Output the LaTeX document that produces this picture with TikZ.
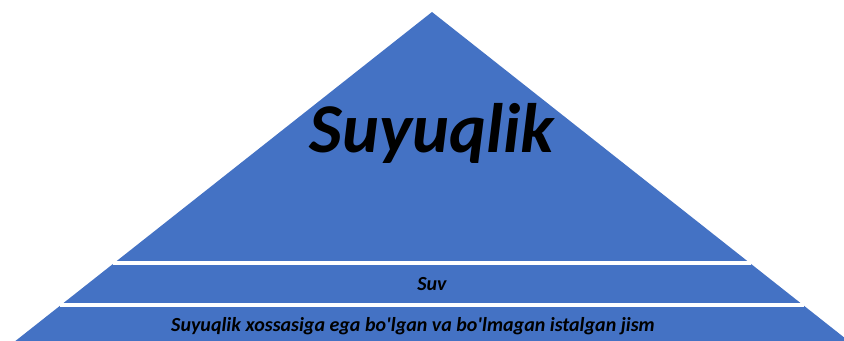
\documentclass[tikz,border=0pt]{standalone}
\usepackage{fontspec}
\setmainfont{Carlito}
\usepackage{tikz}
\definecolor{pyrblue}{HTML}{4472C4}
\tikzset{
  lvl/.style   = {font=\bfseries\itshape, text=black, inner sep=0pt},
  sepline/.style = {draw=white, line width=2.4pt},
}

\begin{document}
\begin{tikzpicture}[x=0.75pt, y=0.75pt]
  \useasboundingbox (0,0) rectangle (844,340);
  \clip (0,0) rectangle (844,340);
  % pyramid body
  \fill[pyrblue] (432,328) -- (4,-10) -- (860,-10) -- cycle;
  % band borders
  \draw[sepline] (113,77) -- (751,77);
  \draw[sepline] (60,35) -- (804,35);
  % labels
  \node[lvl, anchor=base, font=\fontsize{52.5}{56}\selectfont\bfseries\itshape] (top) at (432,187) {Suyuqlik};
  \node[lvl, font=\fontsize{15}{17}\selectfont\bfseries\itshape] (mid) at (432,56) {Suv};
  \node[lvl, font=\fontsize{15}{17}\selectfont\bfseries\itshape] (base) at (413,14)
    {Suyuqlik xossasiga ega bo\textquotesingle lgan va bo\textquotesingle lmagan istalgan jism};
\end{tikzpicture}
\end{document}
